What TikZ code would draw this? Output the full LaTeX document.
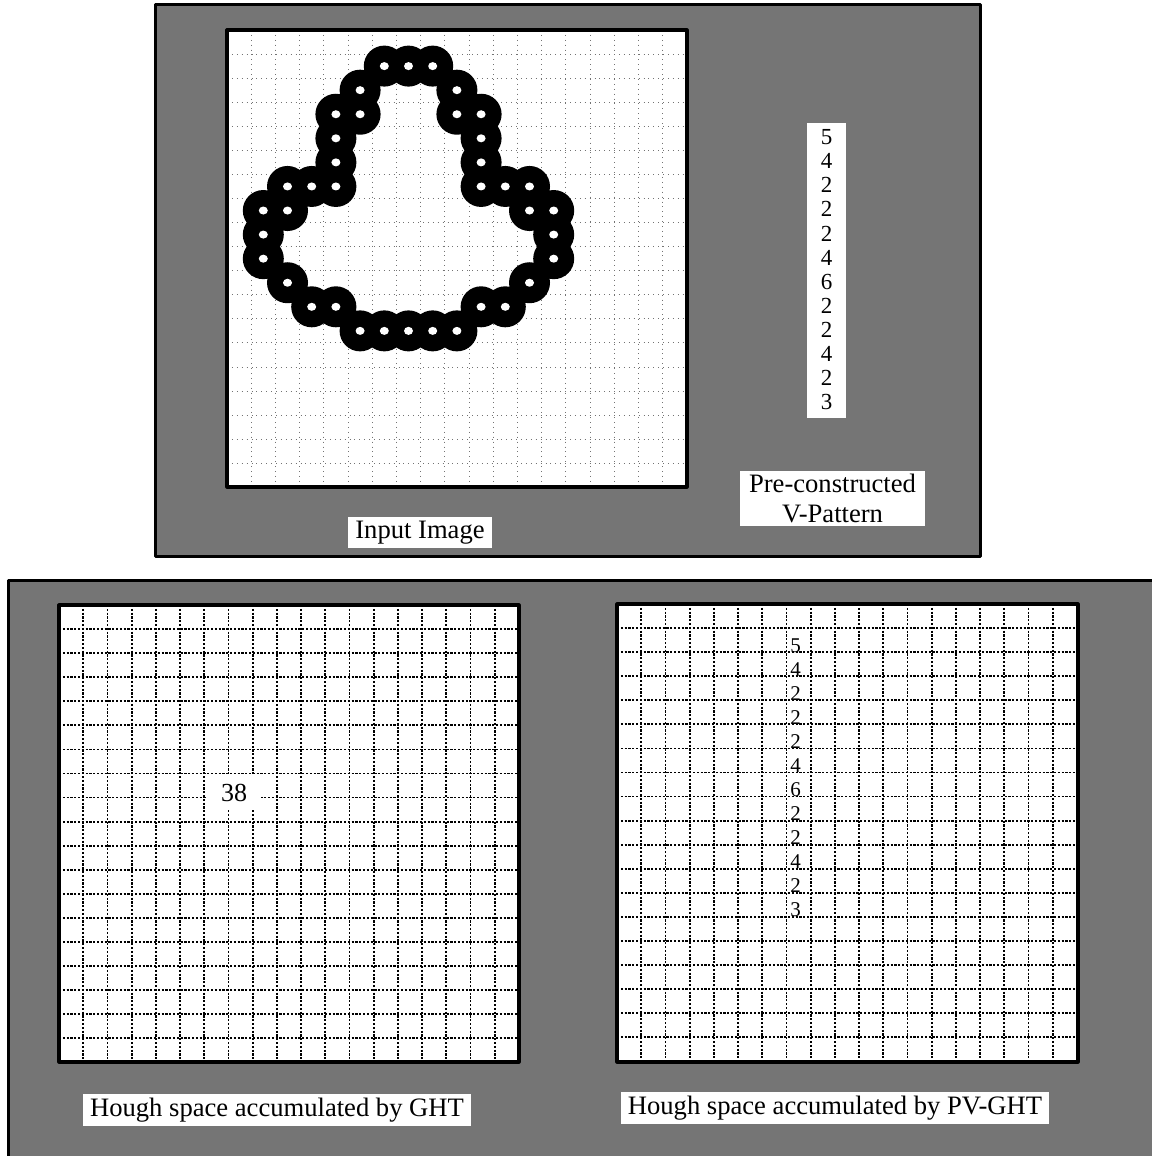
\documentclass[tikz,border=0pt]{standalone}
\usepackage{fontspec}
\setmainfont{Liberation Serif}
\begin{document}
\begin{tikzpicture}[
		x=0.5pt, y=-0.5pt, line join=round,
		panel/.style={fill=black!54, draw=black, line width=1.5pt},
		frame/.style={draw=black, line width=1.6pt},
		imgline/.style={black!55, dotted, line width=0.45pt},
		houghline/.style={black, dash pattern=on 1.1pt off 0.8pt, line width=0.9pt},
		tag/.style={fill=white, inner xsep=3.5pt, inner ysep=2pt, font=\fontsize{13.3}{15}\selectfont},
		digit/.style={inner sep=0pt, font=\fontsize{10.5}{12}\selectfont},
		]
		\pgfmathsetmacro{\cw}{24.2}
		\pgfmathsetmacro{\ch}{24.07}
		\useasboundingbox (0,0) rectangle (1151,1156);
		\fill[white] (0,0) rectangle (1151,1156);
		
		% 1. KHUNG TREN: ANH DAU VAO
		\draw[panel] (155,5) rectangle (980,556);
		\fill[white] (227,30) rectangle (687,487);
		\foreach \k in {1,...,18}
			\draw[imgline] (227+\k*\cw,30) -- (227+\k*\cw,487) (227,30+\k*\ch) -- (687,30+\k*\ch);
		% duong bien cua vat the (38 diem)
		\foreach \i/\j in {6/1,7/1,8/1,9/2,9/3,10/3,10/4,10/5,10/6,11/6,12/6,12/7,13/7,13/8,13/9,12/10,
				11/11,10/11,9/12,8/12,7/12,6/12,5/12,4/11,3/11,2/10,1/9,1/8,1/7,2/7,2/6,3/6,4/6,4/5,4/4,4/3,5/3,5/2}
			\fill (227+\i*\cw+\cw/2, 30+\j*\ch+\ch/2) circle[radius=20.5];
		\foreach \i/\j in {6/1,7/1,8/1,9/2,9/3,10/3,10/4,10/5,10/6,11/6,12/6,12/7,13/7,13/8,13/9,12/10,
				11/11,10/11,9/12,8/12,7/12,6/12,5/12,4/11,3/11,2/10,1/9,1/8,1/7,2/7,2/6,3/6,4/6,4/5,4/4,4/3,5/3,5/2}
			\fill[white] (227+\i*\cw+\cw/2, 30+\j*\ch+\ch/2) circle[x radius=4.5, y radius=4];
		\draw[frame] (227,30) rectangle (687,487);
		
		% V-Pattern dung san
		\fill[white] (807,123) rectangle (846,418);
		\foreach \d [count=\n] in {5,4,2,2,2,4,6,2,2,4,2,3}
			\node[digit, font=\fontsize{11.5}{12}\selectfont] (v\n) at (826.5, 137+\n*24.1-24.1) {\d};
		
		\node[tag] (input) at (420,532.5) {Input Image};
		\node[tag, align=center, inner xsep=4.5pt, inner ysep=1.5pt] (vpat) at (832.5,498.5) {Pre-constructed\\V-Pattern};
		
		% 2. KHUNG DUOI: KHONG GIAN HOUGH
		\draw[panel] (8,580) rectangle (1175,1180);
		
		% GHT
		\fill[white] (59,605) rectangle (519,1062);
		\foreach \k in {1,...,18}
			\draw[houghline] (59+\k*\cw,605) -- (59+\k*\cw,1062) (59,605+\k*\ch) -- (519,605+\k*\ch);
		\draw[frame] (59,605) rectangle (519,1062);
		\node[fill=white, inner xsep=7pt, inner ysep=4pt, font=\fontsize{13}{15}\selectfont] (peak) at (234,793) {38};
		
		% PV-GHT
		\fill[white] (617,604) rectangle (1078,1062);
		\foreach \k in {1,...,18}
			\draw[houghline] (617+\k*\cw,604) -- (617+\k*\cw,1062) (617,604+\k*\ch) -- (1078,604+\k*\ch);
		\draw[frame] (617,604) rectangle (1078,1062);
		\foreach \d [count=\n] in {5,4,2,2,2,4,6,2,2,4,2,3}
			\node[digit, anchor=base west] (h\n) at (790, 604+\n*\ch+\ch) {\d};
		
		% 3. NHAN
		\node[tag] (ght) at (277,1110) {Hough space accumulated by GHT};
		\node[tag] (pvght) at (835,1108) {Hough space accumulated by PV-GHT};
		
	\end{tikzpicture}
\end{document}
